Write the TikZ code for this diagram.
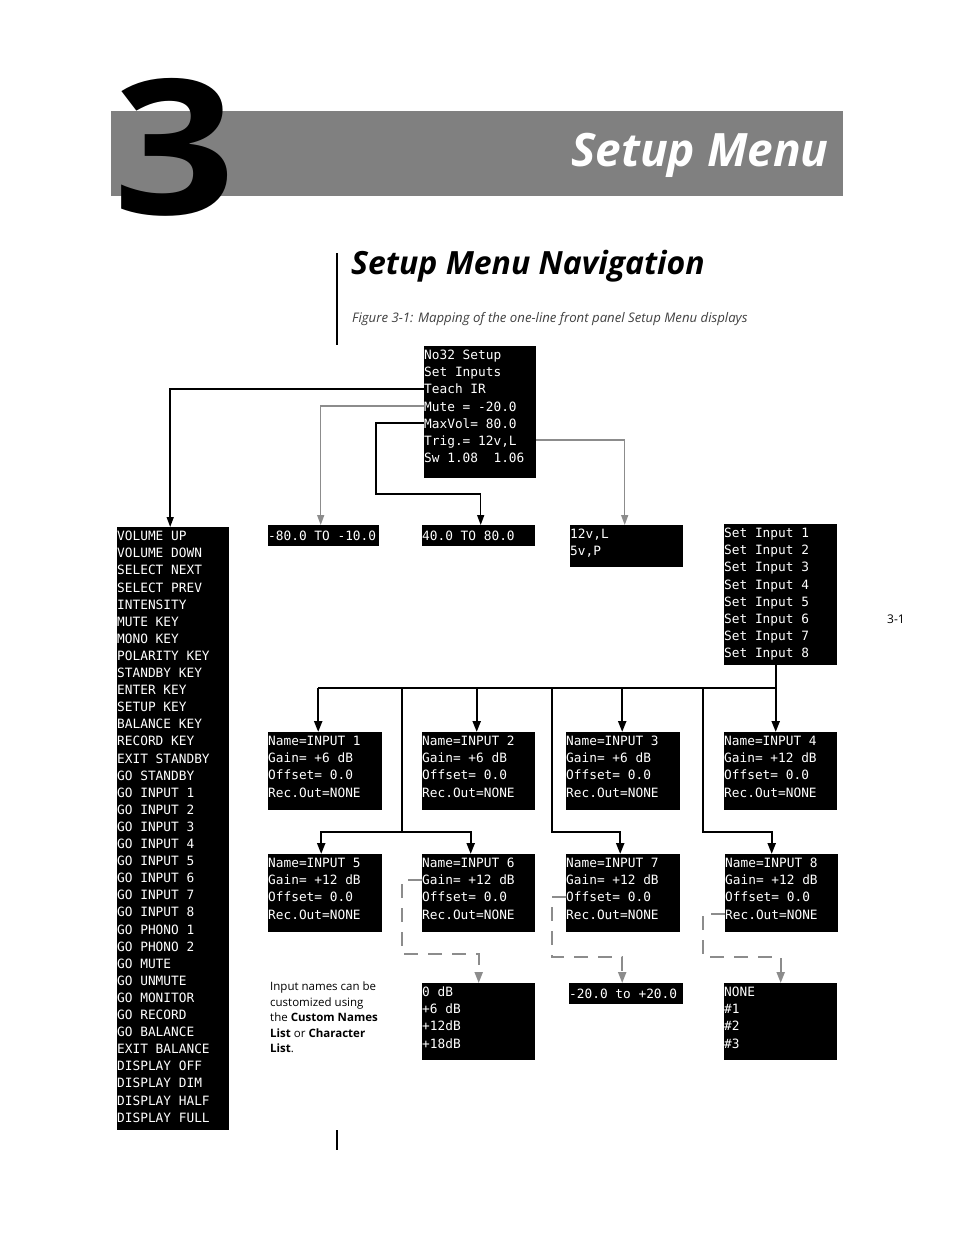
\documentclass[tikz,border=0pt]{standalone}
\usepackage{fontspec}
\setmainfont{Open Sans}
\newfontfamily\lcdfont{DejaVu Sans Mono}
\usetikzlibrary{arrows.meta,calc}
\definecolor{bargray}{HTML}{808080}
\definecolor{linegray}{HTML}{8C8C8C}
\tikzset{
  lcd/.style={fill=black,text=white,inner sep=0pt,anchor=north west,
    font=\lcdfont\fontsize{12.8}{17.1}\selectfont},
  link/.style={-{Triangle[length=10pt,width=7pt]},line width=1.5pt},
  dimlink/.style={link,linegray},
  tree/.style={-{Triangle[length=11pt,width=8pt]},line width=2.2pt},
  dashlink/.style={-{Triangle[length=11pt,width=8pt]},line width=2pt,linegray,dash pattern=on 14pt off 10pt},
}
\begin{document}
\begin{tikzpicture}[x=1pt,y=-1pt]
    \useasboundingbox (0,0) rectangle (954,1235);

    % chapter head
    \fill[bargray] (111,111) rectangle (843,196);
    \node[anchor=base west,inner sep=0pt,font=\fontsize{188}{188}\selectfont\bfseries] (chap) at (113,214) {\scalebox{1.14}[1]{3}};
    \node[anchor=base east,inner sep=0pt,text=white,font=\fontsize{46}{46}\selectfont\bfseries\itshape] (title) at (829,166) {Setup Menu};
    \draw[line width=2pt] (337,253) -- (337,345);
    \draw[line width=2pt] (337,1130) -- (337,1150);
    \node[anchor=base west,inner sep=0pt,font=\fontsize{32}{32}\selectfont\bfseries\itshape] (sect) at (351,274) {Setup Menu Navigation};
    \node[anchor=base west,inner sep=0pt,text=black!75,font=\fontsize{13.2}{15}\selectfont\itshape] (cap) at (352,322) {Figure 3-1: Mapping of the one-line front panel Setup Menu displays};
    \node[anchor=base west,inner sep=0pt,font=\fontsize{12}{14}\selectfont] (page) at (887,623) {3-1};

    % displays
    \node[lcd] (main) at (424,346) {\parbox[t][132pt][t]{112pt}{\rule{0pt}{13.5pt}No32 Setup\\Set Inputs\\Teach IR\\Mute = -20.0\\MaxVol= 80.0\\Trig.= 12v,L\\Sw 1.08\ \ 1.06}};
    \node[lcd] (keys) at (117,527) {\parbox[t][603pt][t]{112pt}{\rule{0pt}{13.5pt}VOLUME UP\\VOLUME DOWN\\SELECT NEXT\\SELECT PREV\\INTENSITY\\MUTE KEY\\MONO KEY\\POLARITY KEY\\STANDBY KEY\\ENTER KEY\\SETUP KEY\\BALANCE KEY\\RECORD KEY\\EXIT STANDBY\\GO STANDBY\\GO INPUT 1\\GO INPUT 2\\GO INPUT 3\\GO INPUT 4\\GO INPUT 5\\GO INPUT 6\\GO INPUT 7\\GO INPUT 8\\GO PHONO 1\\GO PHONO 2\\GO MUTE\\GO UNMUTE\\GO MONITOR\\GO RECORD\\GO BALANCE\\EXIT BALANCE\\DISPLAY OFF\\DISPLAY DIM\\DISPLAY HALF\\DISPLAY FULL}};
    \node[lcd] (lo) at (268,525) {\parbox[c][21pt][c]{111pt}{-80.0 TO -10.0}};
    \node[lcd] (hi) at (422,525) {\parbox[c][21pt][c]{113pt}{40.0 TO 80.0}};
    \node[lcd] (trg) at (570,525) {\parbox[t][42pt][t]{113pt}{\rule{0pt}{13.5pt}12v,L\\5v,P}};
    \node[lcd] (sets) at (724,524) {\parbox[t][141pt][t]{113pt}{\rule{0pt}{13.5pt}Set Input 1\\Set Input 2\\Set Input 3\\Set Input 4\\Set Input 5\\Set Input 6\\Set Input 7\\Set Input 8}};

    \node[lcd] (in1) at (268,732) {\parbox[t][78pt][t]{114pt}{\rule{0pt}{13.5pt}Name=INPUT 1\\Gain= +6 dB\\Offset= 0.0\\Rec.Out=NONE}};
    \node[lcd] (in2) at (422,732) {\parbox[t][78pt][t]{113pt}{\rule{0pt}{13.5pt}Name=INPUT 2\\Gain= +6 dB\\Offset= 0.0\\Rec.Out=NONE}};
    \node[lcd] (in3) at (566,732) {\parbox[t][78pt][t]{114pt}{\rule{0pt}{13.5pt}Name=INPUT 3\\Gain= +6 dB\\Offset= 0.0\\Rec.Out=NONE}};
    \node[lcd] (in4) at (724,732) {\parbox[t][78pt][t]{113pt}{\rule{0pt}{13.5pt}Name=INPUT 4\\Gain= +12 dB\\Offset= 0.0\\Rec.Out=NONE}};
    \node[lcd] (in5) at (268,854) {\parbox[t][78pt][t]{114pt}{\rule{0pt}{13.5pt}Name=INPUT 5\\Gain= +12 dB\\Offset= 0.0\\Rec.Out=NONE}};
    \node[lcd] (in6) at (422,854) {\parbox[t][78pt][t]{113pt}{\rule{0pt}{13.5pt}Name=INPUT 6\\Gain= +12 dB\\Offset= 0.0\\Rec.Out=NONE}};
    \node[lcd] (in7) at (566,854) {\parbox[t][78pt][t]{114pt}{\rule{0pt}{13.5pt}Name=INPUT 7\\Gain= +12 dB\\Offset= 0.0\\Rec.Out=NONE}};
    \node[lcd] (in8) at (725,854) {\parbox[t][78pt][t]{113pt}{\rule{0pt}{13.5pt}Name=INPUT 8\\Gain= +12 dB\\Offset= 0.0\\Rec.Out=NONE}};

    \node[lcd] (db) at (422,983) {\parbox[t][77pt][t]{113pt}{\rule{0pt}{13.5pt}0 dB\\+6 dB\\+12dB\\+18dB}};
    \node[lcd] (offs) at (569,983) {\parbox[c][21pt][c]{114pt}{-20.0 to +20.0}};
    \node[lcd] (recs) at (724,983) {\parbox[t][77pt][t]{113pt}{\rule{0pt}{13.5pt}NONE\\\#1\\\#2\\\#3}};

    \node[anchor=north west,inner sep=0pt,align=left,font=\fontsize{11.5}{15.5}\selectfont] (note) at (270,982)
        {Input names can be\\customized using\\the \textbf{Custom Names}\\\textbf{List} or \textbf{Character}\\\textbf{List}.};

    % top menu links
    \coordinate (teach) at ($(main.north west)+(0,43)$);
    \coordinate (mute) at ($(main.north west)+(0,60)$);
    \coordinate (maxv) at ($(main.north west)+(0,77)$);
    \coordinate (trig) at ($(main.north east)+(0,94)$);
    \coordinate (kink) at (376,494);
    \draw[link] (teach) -| ([xshift=-3pt]keys.north);
    \draw[dimlink] (mute) -| ([xshift=-3pt]lo.north);
    \draw[link] (maxv) -| (kink) -| ([xshift=2pt]hi.north);
    \draw[dimlink] (trig) -| ([xshift=-2pt]trg.north);

    % set inputs tree
    \coordinate (bus) at (0,688);
    \coordinate (split) at (0,832);
    \coordinate (b56) at (402,0);
    \coordinate (b7) at (552,0);
    \coordinate (b8) at (703,0);
    \draw[tree] ([xshift=-5pt]sets.south) -- ([xshift=-5pt]sets.south |- in4.north);
    \draw[line width=2.2pt] ([xshift=-7pt]in1.north |- bus) -- ([xshift=-5pt]sets.south |- bus);
    \draw[tree] ([xshift=-7pt]in1.north |- bus) -- ([xshift=-7pt]in1.north);
    \draw[tree] ([xshift=-2pt]in2.north |- bus) -- ([xshift=-2pt]in2.north);
    \draw[tree] ([xshift=-1pt]in3.north |- bus) -- ([xshift=-1pt]in3.north);
    \draw[tree] (b56 |- bus) -- (b56 |- split) -| ([xshift=-4pt]in5.north);
    \draw[tree] (b56 |- split) -| ([xshift=-8pt]in6.north);
    \draw[tree] (b7 |- bus) -- (b7 |- split) -| ([xshift=-3pt]in7.north);
    \draw[tree] (b8 |- bus) -- (b8 |- split) -| ([xshift=-10pt]in8.north);

    % value lists
    \coordinate (gain6) at ($(in6.north west)+(0,26)$);
    \coordinate (offs7) at ($(in7.north west)+(0,43)$);
    \coordinate (rec8) at ($(in8.north west)+(0,60)$);
    \coordinate (low6) at (0,954);
    \coordinate (low) at (0,957);
    \draw[dashlink] (gain6) -| (b56 |- low6) -| (db.north);
    \draw[dashlink] (offs7) -| (b7 |- low) -| ([xshift=-4pt]offs.north);
    \draw[dashlink] (rec8) -| (b8 |- low) -| (recs.north);
\end{tikzpicture}
\end{document}
